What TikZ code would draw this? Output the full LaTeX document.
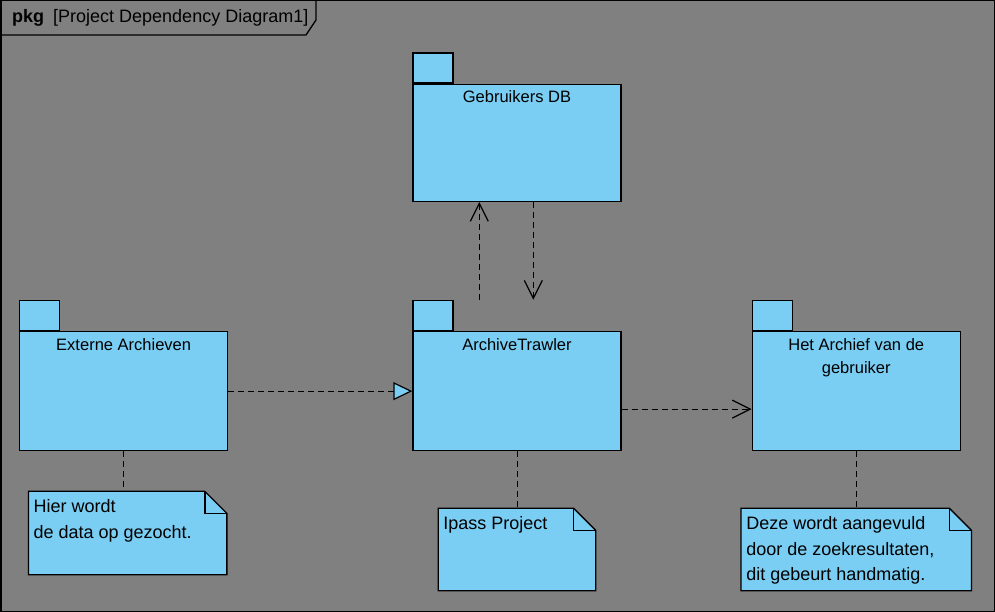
\documentclass[tikz,border=0pt]{standalone}
\usepackage{fontspec}
\setmainfont{Liberation Sans}
\usetikzlibrary{arrows.meta,positioning}
\definecolor{pkgblue}{RGB}{122,206,243}
\definecolor{framegray}{RGB}{128,128,128}

% outline of a note with a folded corner
\newcommand{\drawnote}[1]{%
  \draw[notebox] (#1.north west) -- ([xshift=-22pt]#1.north east)
    -- ([yshift=-22pt]#1.north east) -- (#1.south east) -- (#1.south west) -- cycle;
  \draw[notebox, fill=none] ([xshift=-22pt]#1.north east) |- ([yshift=-22pt]#1.north east);
}

\begin{document}
\begin{tikzpicture}[x=1pt,y=-1pt,
    pkgbody/.style={draw, fill=pkgblue, line width=1.3pt, inner sep=0pt,
      minimum width=208pt, minimum height=119pt, anchor=north west},
    pkgtab/.style={draw, fill=pkgblue, line width=1.3pt, inner sep=0pt,
      minimum width=40pt, minimum height=30pt, anchor=south west},
    pkglabel/.style={anchor=north, yshift=-7pt, inner sep=0pt, align=center,
      font=\fontsize{16.5}{23}\selectfont},
    notebody/.style={inner sep=0pt, anchor=north},
    notebox/.style={draw, fill=pkgblue, line width=1.3pt},
    notetext/.style={anchor=north west, xshift=5pt, yshift=-8pt, inner sep=0pt,
      align=left, font=\fontsize{18}{25.5}\selectfont},
    dep/.style={draw, dashed, dash pattern=on 6pt off 4pt, line width=1.2pt},
    openhead/.style={dep, -{Straight Barb[length=18pt,width=18pt,line width=1.2pt]}},
    realize/.style={dep, -{Triangle[length=19pt,width=18pt,fill=pkgblue,line width=1.2pt]}}]

    \useasboundingbox (0,0) rectangle (995,612);

    % Frame
    \draw[fill=framegray, line width=1.5pt] (0.75,0.75) rectangle (994.25,611.25);
    \draw[line width=1.3pt] (1,35) -- (306,35) -- (316,20) -- (316,1);
    \node[anchor=west, inner sep=0pt, font=\fontsize{18}{20}\selectfont] (title) at (12,18)
        {\textbf{pkg}\hspace{9pt}[Project Dependency Diagram1]};

    % Packages
    \node[pkgbody, label={[pkglabel]north:Externe Archieven}] (ext) at (19,331) {};
    \node[pkgbody, right=184pt of ext, label={[pkglabel]north:ArchiveTrawler}] (trawler) {};
    \node[pkgbody, right=130pt of trawler,
        label={[pkglabel]north:Het Archief van de\\gebruiker}] (archief) {};
    \node[pkgbody, minimum height=117pt, above=129pt of trawler,
        label={[pkglabel]north:Gebruikers DB}] (gebrdb) {};
    \node[pkgtab] (exttab) at (ext.north west) {};
    \node[pkgtab] (trawlertab) at (trawler.north west) {};
    \node[pkgtab] (archieftab) at (archief.north west) {};
    \node[pkgtab] (gebrdbtab) at (gebrdb.north west) {};

    % Notes
    \node[notebody, minimum width=198pt, minimum height=83pt, below=40pt of ext, xshift=4pt] (extnote) {};
    \node[notebody, minimum width=157pt, minimum height=82pt, below=57pt of trawler] (trawlernote) {};
    \node[notebody, minimum width=230pt, minimum height=82pt, below=57pt of archief] (archiefnote) {};
    \drawnote{extnote}
    \drawnote{trawlernote}
    \drawnote{archiefnote}
    \node[notetext] (extnotetext) at (extnote.north west) {Hier wordt\\de data op gezocht.};
    \node[notetext] (trawlernotetext) at (trawlernote.north west) {Ipass Project};
    \node[notetext] (archiefnotetext) at (archiefnote.north west)
        {Deze wordt aangevuld\\door de zoekresultaten,\\dit gebeurt handmatig.};

    % Dependencies
    \path[realize] (ext.east) -- (trawler.west);
    \path[openhead] ([yshift=-18pt]trawler.east) -- ([yshift=-18pt]archief.west);
    \path[openhead] ([xshift=67pt]trawlertab.north west) -- ([xshift=67pt]gebrdb.south west);
    \path[openhead] ([xshift=121pt]gebrdb.south west) -- ([xshift=121pt]trawlertab.north west);

    % Note anchors
    \path[dep] (ext.south) -- (ext.south |- extnote.north);
    \path[dep] ([xshift=0.5pt]trawler.south) -- ([xshift=0.5pt]trawlernote.north);
    \path[dep] (archief.south) -- (archiefnote.north);

\end{tikzpicture}
\end{document}
